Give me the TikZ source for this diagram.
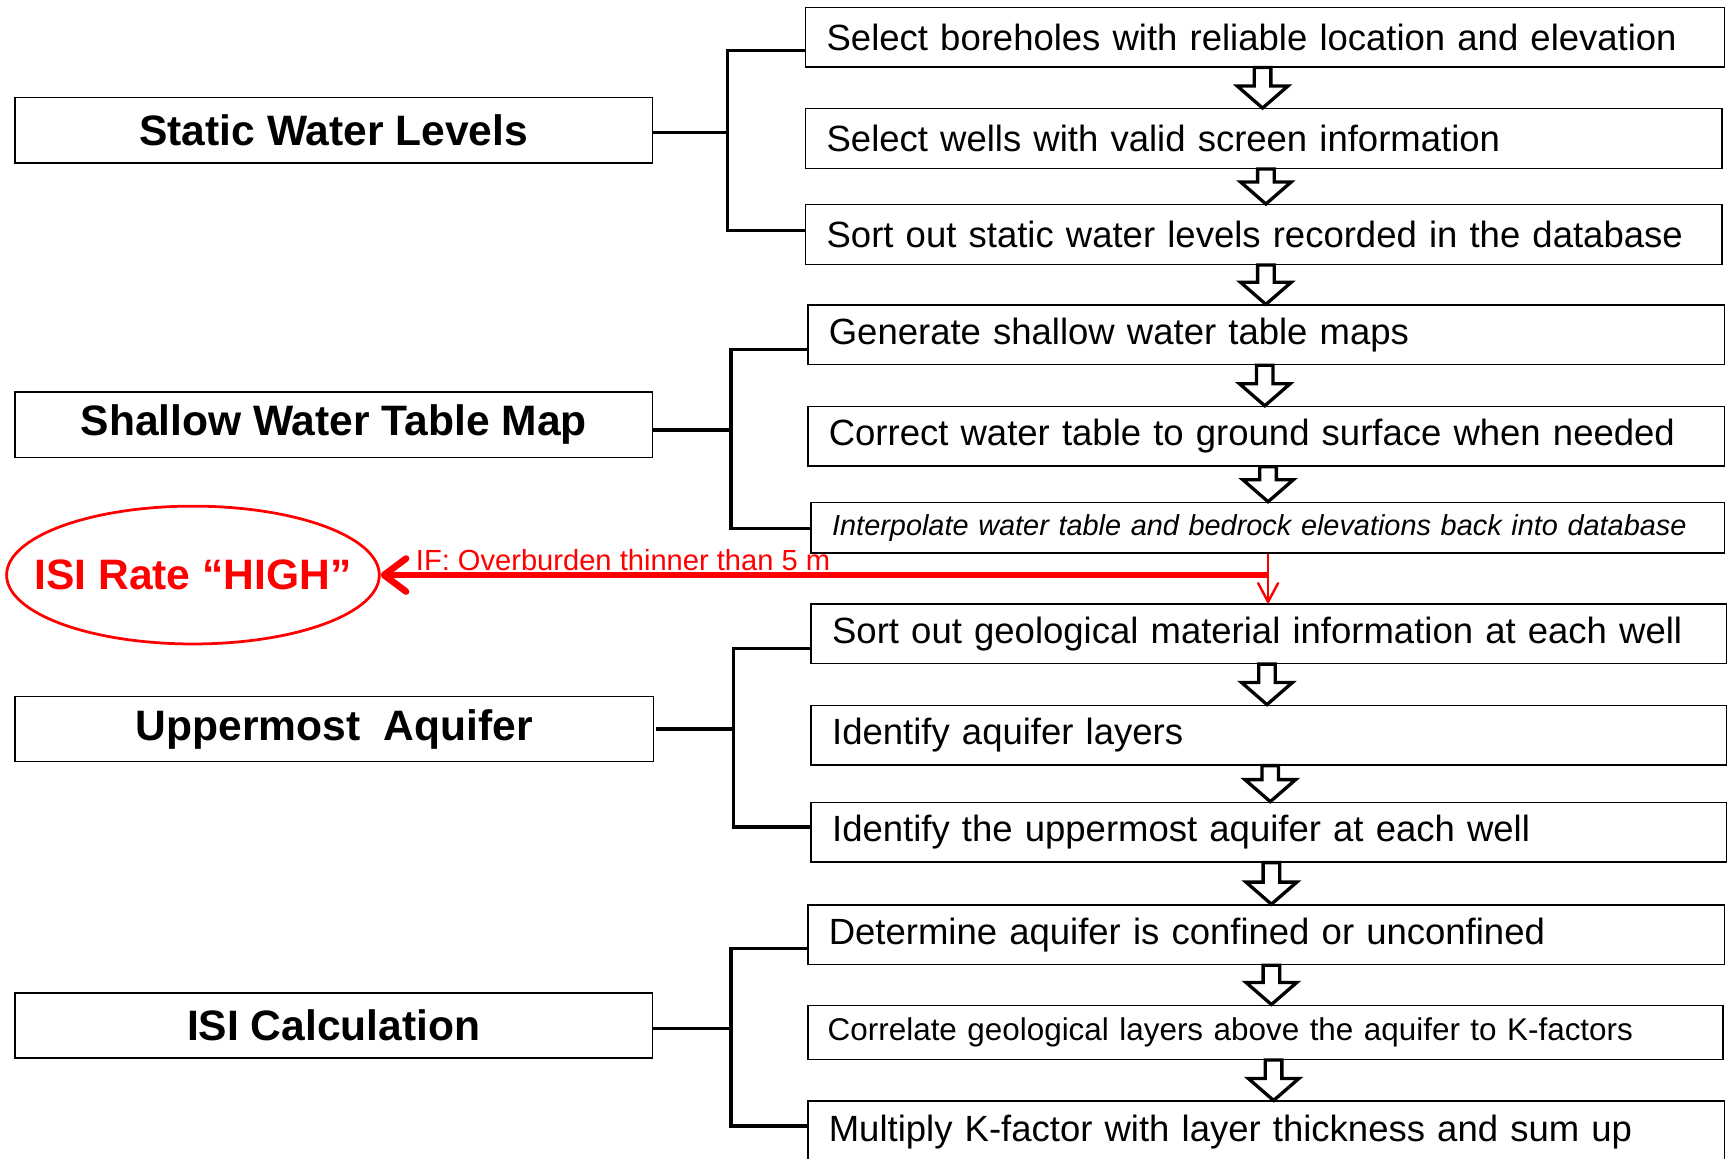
\documentclass[tikz,border=0pt]{standalone}
\usepackage{fontspec}
\setmainfont{Liberation Sans}
\usetikzlibrary{calc,arrows.meta,shapes.geometric}
\tikzset{
  rbox/.style={draw=black, line width=1.3pt, fill=white, anchor=north west, inner xsep=19pt, inner ysep=0pt, align=left, font=\fontsize{33.1}{40}\selectfont},
  lbox/.style={draw=black, line width=1.3pt, fill=white, anchor=north west, inner sep=0pt, minimum height=59pt, font=\fontsize{38.6}{45}\selectfont\bfseries},
  branch/.style={line width=3pt, line join=miter},
  blk/.style={draw=black, line width=3pt, fill=white, line join=miter},
  redline/.style={draw=red, line width=6pt},
}
\newcommand\hollowarrow[3]{%
  \draw[blk] let \p1=(#1.south), \p2=(#2.north) in
    (#3-7.5,\y1) -- (#3+7.5,\y1) -- (#3+7.5,\y2+20pt) -- (#3+23,\y2+20pt) -- (#3,\y2) -- (#3-23,\y2+20pt) -- (#3-7.5,\y2+20pt) -- cycle;}
\begin{document}
\begin{tikzpicture}[x=1pt,y=-1pt]
\useasboundingbox (0,0) rectangle (1568,1051);
\clip (0,0) rectangle (1568,1051);
\fill[white] (0,0) rectangle (1568,1051);

% left boxes
\node[lbox, minimum width=578pt] (L1) at (13,88) {Static Water Levels};
\node[lbox, minimum width=578pt] (L2) at (13,355) {Shallow Water Table Map};
\node[lbox, minimum width=579pt] (L3) at (13,631) {Uppermost\ \ Aquifer};
\node[lbox, minimum width=578pt] (L4) at (13,900) {ISI Calculation};

% right boxes
\node[rbox, text width=795pt, minimum height=54pt] (B1) at (730,6) {Select boreholes with reliable location and elevation};
\node[rbox, text width=793pt, minimum height=54pt] (B2) at (730,98) {Select wells with valid screen information};
\node[rbox, text width=793pt, minimum height=54pt] (B3) at (730,185) {Sort out static water levels recorded in the database};
\node[rbox, text width=793pt, minimum height=54pt] (B4) at (732,276) {Generate shallow water table maps};
\node[rbox, text width=793pt, minimum height=54pt] (B5) at (732,368) {Correct water table to ground surface when needed};
\node[rbox, text width=790pt, minimum height=46pt, font=\fontsize{26.2}{30}\selectfont\itshape] (B6) at (735,455) {Interpolate water table and bedrock elevations back into database};
\node[rbox, text width=792pt, minimum height=54pt] (B7) at (735,547) {Sort out geological material information at each well};
\node[rbox, text width=792pt, minimum height=54pt] (B8) at (735,639) {Identify aquifer layers};
\node[rbox, text width=792pt, minimum height=54pt] (B9) at (735,727) {Identify the uppermost aquifer at each well};
\node[rbox, text width=793pt, minimum height=54pt] (B10) at (732,820) {Determine aquifer is confined or unconfined};
\node[rbox, text width=794pt, minimum height=49pt, inner xsep=18pt, font=\fontsize{28.5}{32}\selectfont] (B11) at (732,911) {Correlate geological layers above the aquifer to K-factors};
\node[rbox, text width=793pt, minimum height=56pt] (B12) at (732,998) {Multiply K-factor with layer thickness and sum up};

% branches
\coordinate (j1) at (660,120);
\draw[branch] (L1.east |- j1) -- (j1);
\draw[branch] (B1.west |- 0,46) -| (j1 |- 0,209) -- (B3.west |- 0,209);
\coordinate (j2) at (663,390);
\draw[branch] (L2.east |- j2) -- (j2);
\draw[branch] (B4.west |- 0,317) -| (j2 |- 0,479) -- (B6.west |- 0,479);
\coordinate (j3) at (665,661);
\draw[branch] (595,661) -- (j3);
\draw[branch] (B7.west |- 0,588) -| (j3 |- 0,750) -- (B9.west |- 0,750);
\coordinate (j4) at (663,933);
\draw[branch] (L4.east |- j4) -- (j4);
\draw[branch] (B10.west |- 0,860) -| (j4 |- 0,1021) -- (B12.west |- 0,1021);

% hollow arrows
\hollowarrow{B1}{B2}{1145}
\hollowarrow{B2}{B3}{1148}
\hollowarrow{B3}{B4}{1148}
\hollowarrow{B4}{B5}{1147}
\hollowarrow{B5}{B6}{1150}
\hollowarrow{B7}{B8}{1149}
\hollowarrow{B8}{B9}{1152}
\hollowarrow{B9}{B10}{1153}
\hollowarrow{B10}{B11}{1153}
\hollowarrow{B11}{B12}{1155}

% red part
\node[ellipse, draw=red, line width=2.5pt, minimum width=338pt, minimum height=125pt, inner sep=0pt] (isi) at (175,521.5) {};
\node[text=red, inner sep=0pt, font=\fontsize{38.6}{45}\selectfont\bfseries] (isitext) at (isi.center) {ISI Rate “HIGH”};
\coordinate (rj) at (1150,521.5);
\draw[red, line width=2.2pt, -{Straight Barb[round,length=17pt,width=18pt]}] (B6.south -| rj) -- (B7.north -| rj);
\draw[redline, -{Straight Barb[round,length=20pt,width=30pt]}] (rj) -- (isi.east);
\node[text=red, anchor=base west, inner sep=0pt, font=\fontsize{26.4}{30}\selectfont] (iflab) at (377,517) {IF: Overburden thinner than 5 m};
\end{tikzpicture}
\end{document}
